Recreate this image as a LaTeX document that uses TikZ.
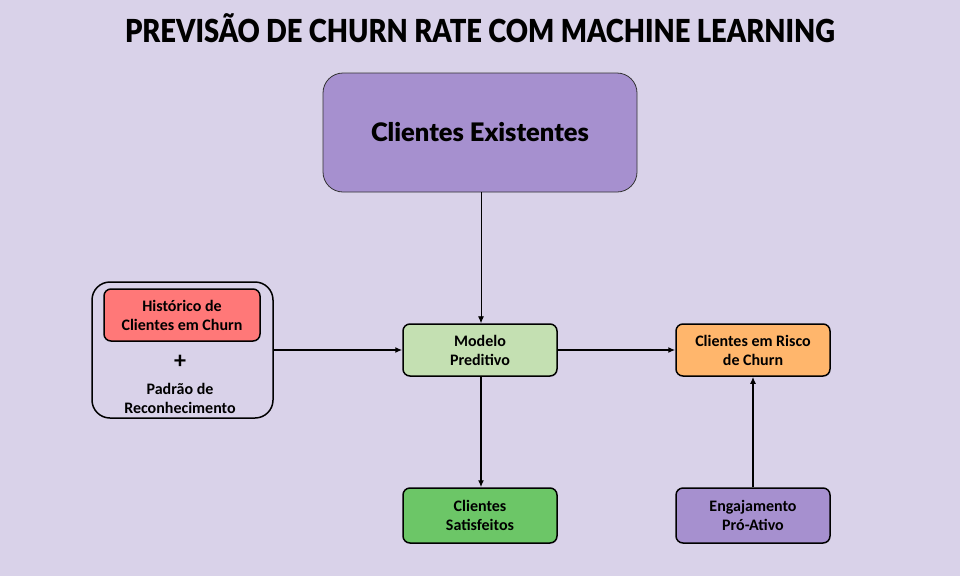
\documentclass[tikz,border=0pt]{standalone}
\usepackage{fontspec}
\usetikzlibrary{arrows.meta}
\setmainfont{Carlito}
\newfontfamily\titlefont{Lato Black}
\newfontfamily\headfont{Lato Black}
\definecolor{bgc}{HTML}{D9D2E9}
\definecolor{purp}{HTML}{A690CF}
\definecolor{redc}{HTML}{FF7878}
\definecolor{lgreen}{HTML}{C4E0B2}
\definecolor{orng}{HTML}{FFB66C}
\definecolor{grn}{HTML}{6CC667}
\tikzset{
  x=1pt, y=-1pt,
  box/.style={draw=black, line width=1.5pt, rounded corners=7pt, align=center,
    font=\fontsize{16}{19}\selectfont\bfseries, inner sep=0pt},
  arr/.style={line width=1.5pt, -{Latex[length=7pt,width=6pt]}},
  thinarr/.style={line width=0.9pt, -{Latex[length=7pt,width=6pt]}},
}
\begin{document}
\begin{tikzpicture}
\fill[bgc] (0,0) rectangle (960,576);
\useasboundingbox (0,0) rectangle (960,576);
\node (title) at (480,28) {\resizebox{710pt}{\height}{\fontsize{31.7}{32}\titlefont PREVISÃO DE CHURN RATE COM MACHINE LEARNING}};
\node[draw=black!80, line width=0.8pt, fill=purp, rounded corners=20pt, minimum width=314pt, minimum height=119pt, inner sep=0pt] (exist) at (480,132.5) {\resizebox{218pt}{!}{\fontsize{25}{28}\headfont Clientes Existentes}};
\node[draw=black, line width=1.5pt, rounded corners=18pt, minimum width=181pt, minimum height=136pt, inner sep=0pt] (group) at (182.5,350) {};
\node[box, fill=redc, minimum width=156pt, minimum height=52pt] (hist) at (182,315) {Histórico de\\Clientes em Churn};
\node[font=\fontsize{24}{24}\selectfont\bfseries] (plus) at (180,362) {+};
\node[font=\fontsize{16}{19}\selectfont\bfseries, align=center] (padrao) at (180,398) {Padrão de\\Reconhecimento};
\node[box, fill=lgreen, minimum width=154pt, minimum height=52pt] (modelo) at (480,350) {Modelo\\Preditivo};
\node[box, fill=orng, minimum width=154pt, minimum height=52pt] (risco) at (753,350) {Clientes em Risco\\de Churn};
\node[box, fill=grn, minimum width=154pt, minimum height=55pt] (satisf) at (480,515.5) {Clientes\\Satisfeitos};
\node[box, fill=purp, minimum width=154pt, minimum height=55pt] (engaj) at (753,515.5) {Engajamento\\Pró-Ativo};
\draw[thinarr] (exist.south -| 481,0) -- (modelo.north -| 481,0);
\draw[arr] (group.east) -- (modelo.west);
\draw[arr] (modelo.east) -- (risco.west);
\draw[arr] (modelo.south -| 481,0) -- (satisf.north -| 481,0);
\draw[arr] (engaj.north) -- (risco.south);
\end{tikzpicture}
\end{document}
